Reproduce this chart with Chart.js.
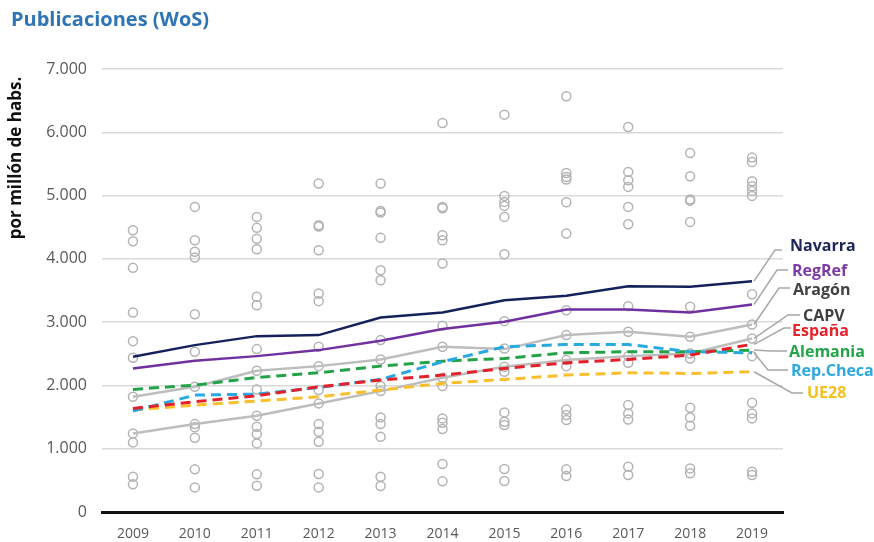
<!DOCTYPE html>
<html>
<head>
<meta charset="utf-8">
<script src="https://cdn.jsdelivr.net/npm/chart.js@4"></script>
<style>
  html, body { margin: 0; padding: 0; background: #fff; }
  #wrap { width: 874px; height: 542px; position: relative; }
</style>
</head>
<body>
<div id="wrap"><canvas id="chart"></canvas></div>
<script>
const years = ['2009', '2010', '2011', '2012', '2013', '2014', '2015', '2016', '2017', '2018', '2019'];
const yTicks = [0, 1000, 2000, 3000, 4000, 5000, 6000, 7000];

const navarra   = [2453, 2637, 2779, 2795, 3074, 3153, 3347, 3416, 3568, 3558, 3647];
const regRef    = [2268, 2389, 2463, 2558, 2705, 2890, 3005, 3200, 3200, 3153, 3279];
const aragon    = [1821, 1979, 2232, 2305, 2411, 2611, 2574, 2795, 2847, 2768, 2963];
const capv      = [1242, 1389, 1521, 1716, 1910, 2121, 2295, 2400, 2463, 2505, 2742];
const espana    = [1637, 1742, 1837, 1979, 2084, 2163, 2268, 2358, 2411, 2479, 2650];
const alemania  = [1937, 2005, 2126, 2200, 2305, 2384, 2426, 2516, 2532, 2532, 2558];
const repCheca  = [1595, 1847, 1863, 1968, 2095, 2374, 2611, 2647, 2647, 2532, 2516];
const ue28      = [1611, 1689, 1753, 1821, 1926, 2032, 2095, 2163, 2200, 2189, 2216];

// resto de regiones (círculos), una lista por año
const dots = [
  [4453, 4279, 3858, 3153, 2700, 2437, 1821, 1242, 1100, 558, 437],
  [4821, 4295, 4111, 4021, 3126, 2532, 1979, 1389, 1340, 1174, 674, 389],
  [4663, 4490, 4316, 4153, 3400, 3268, 2574, 2232, 1937, 1521, 1347, 1232, 1084, 595, 416],
  [5190, 4532, 4510, 4137, 3453, 3332, 2611, 2305, 1926, 1716, 1389, 1268, 1111, 600, 389],
  [5190, 4758, 4732, 4332, 3821, 3663, 2716, 2411, 1990, 1910, 1495, 1389, 1189, 558, 411],
  [6147, 4821, 4800, 4374, 4295, 3926, 2942, 2611, 2121, 1990, 1479, 1411, 1311, 758, 484],
  [6279, 4995, 4900, 4837, 4663, 4074, 3016, 2584, 2295, 2216, 1574, 1426, 1374, 679, 489],
  [6569, 5358, 5295, 5253, 4895, 4400, 3189, 2795, 2400, 2305, 1621, 1532, 1453, 674, 568],
  [6084, 5374, 5242, 5137, 4821, 4547, 3253, 2847, 2463, 2358, 1689, 1558, 1463, 716, 584],
  [5674, 5305, 4937, 4920, 4584, 3242, 2768, 2505, 2426, 1647, 1495, 1363, 689, 611],
  [5600, 5532, 5226, 5147, 5074, 4995, 3442, 2963, 2742, 2463, 1726, 1558, 1479, 637, 584]
];

const dotPoints = dots.flatMap((vals, i) => vals.map(v => ({ x: years[i], y: v })));

function solid(label, data, color) {
  return { label, data, borderColor: color, borderWidth: 2.5, pointRadius: 0, tension: 0, fill: false };
}
function dashed(label, data, color) {
  return { label, data, borderColor: color, borderWidth: 3, borderDash: [10, 6], pointRadius: 0, tension: 0, fill: false };
}

// etiquetas de la derecha con su línea guía
const tags = [
  { name: 'Navarra',   data: navarra,  color: '#1c2657', ex: 775, ey: 250, hx: 782, tx: 790, ty: 246 },
  { name: 'RegRef',    data: regRef,   color: '#7b3aa6', ex: 777, ey: 270, hx: 788, tx: 792, ty: 271 },
  { name: 'Aragón',    data: aragon,   color: '#404040', ex: 779, ey: 288, hx: 790, tx: 793, ty: 290 },
  { name: 'CAPV',      data: capv,     color: '#404040', ex: 788, ey: 315, hx: 800, tx: 803, ty: 316 },
  { name: 'España',    data: espana,   color: '#e5232b', ex: 784, ey: 328, hx: 791, tx: 792, ty: 331 },
  { name: 'Alemania',  data: alemania, color: '#22a548', ex: 770, ey: 351, hx: 787, tx: 789, ty: 352 },
  { name: 'Rep.Checa', data: repCheca, color: '#2aa8e0', ex: 768, ey: 370, hx: 788, tx: 791, ty: 371 },
  { name: 'UE28',      data: ue28,     color: '#f5bf1f', ex: 792, ey: 393, hx: 803, tx: 807, ty: 393 }
];

const decor = {
  id: 'decor',
  afterDraw(chart) {
    const c = chart.ctx;
    const xs = chart.scales.x, ys = chart.scales.y;
    c.save();
    // título
    c.fillStyle = '#2f74b5';
    c.font = 'bold 20px "Open Sans"';
    c.textBaseline = 'middle';
    c.textAlign = 'left';
    c.fillText('Publicaciones (WoS)', 11, 20);
    // título del eje
    c.save();
    c.translate(16, 158);
    c.rotate(-Math.PI / 2);
    c.textAlign = 'center';
    c.fillStyle = '#111';
    c.font = 'bold 17px "Open Sans"';
    c.fillText('por millón de habs.', 0, 0);
    c.restore();
    // guías y etiquetas
    tags.forEach(t => {
      const last = t.data.length - 1;
      const px = xs.getPixelForValue(last) + 2;
      const py = ys.getPixelForValue(t.data[last]);
      c.strokeStyle = '#a8a8a8';
      c.lineWidth = 1.5;
      c.beginPath();
      c.moveTo(px, py);
      c.lineTo(t.ex, t.ey);
      c.lineTo(t.hx, t.ey);
      c.stroke();
      c.fillStyle = t.color;
      c.font = 'bold 16px "Open Sans"';
      c.textAlign = 'left';
      c.fillText(t.name, t.tx, t.ty);
    });
    c.restore();
  }
};

new Chart(document.getElementById('chart'), {
  type: 'line',
  data: {
    labels: years,
    datasets: [
      solid('Navarra', navarra, '#15215a'),
      solid('RegRef', regRef, '#7030a0'),
      dashed('España', espana, '#e4202a'),
      dashed('Rep.Checa', repCheca, '#29a9e1'),
      dashed('Alemania', alemania, '#23a347'),
      dashed('UE28', ue28, '#f9c02c'),
      solid('Aragón', aragon, '#bdbdbd'),
      solid('CAPV', capv, '#bdbdbd'),
      {
        label: 'Regiones',
        data: dotPoints,
        showLine: false,
        pointRadius: 4.5,
        pointBorderWidth: 1.5,
        pointBorderColor: '#b3b3b3',
        pointBackgroundColor: 'rgba(255,255,255,0)',
        pointHoverRadius: 4.5
      }
    ]
  },
  options: {
    responsive: true,
    maintainAspectRatio: false,
    animation: false,
    layout: { padding: { top: 69, right: 91, left: 0, bottom: 0 } },
    scales: {
      x: {
        offset: true,
        grid: { display: false, drawTicks: false },
        border: { color: '#111', width: 3 },
        ticks: { color: '#595959', font: { family: 'Open Sans', size: 14 }, padding: 14, maxRotation: 0 },
        afterFit: (s) => { s.height = 30; }
      },
      y: {
        min: 0,
        max: 7000,
        afterBuildTicks: (s) => { s.ticks = yTicks.map(v => ({ value: v })); },
        grid: { color: '#d9d9d9', lineWidth: 1.5, drawTicks: false },
        border: { display: false },
        ticks: {
          color: '#595959',
          font: { family: 'Open Sans', size: 16 },
          padding: 15,
          callback: (v) => v.toString().replace(/\B(?=(\d{3})+(?!\d))/g, '.')
        },
        afterFit: (s) => { s.width = 102; }
      }
    },
    plugins: {
      legend: { display: false },
      tooltip: { enabled: false }
    }
  },
  plugins: [decor]
});
</script>
</body>
</html>
